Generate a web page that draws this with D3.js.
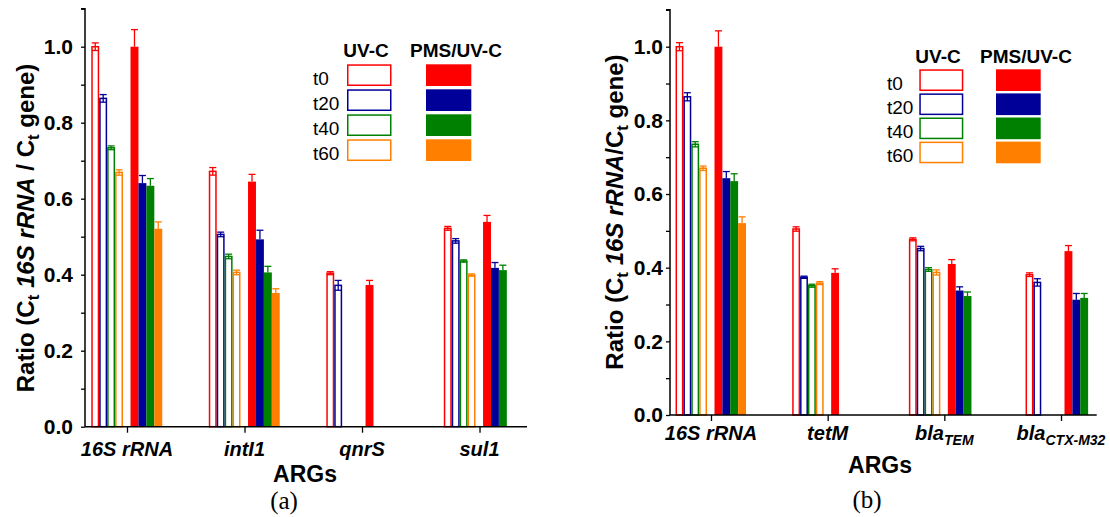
<!DOCTYPE html>
<html><head><meta charset="utf-8">
<script src="https://cdn.jsdelivr.net/npm/d3@7"></script>
<style>body{margin:0;background:#fff}svg{display:block}</style>
</head><body>
<script>
// ---------------- DATA ----------------
const series = ["t0", "t20", "t40", "t60"];
const colors = ["#ff0000", "#000099", "#008000", "#ff8000"];
const yTicks = [0, 0.2, 0.4, 0.6, 0.8, 1.0];

// Panel (a)
const catsA = ["16S rRNA", "intI1", "qnrS", "sul1"];
const uvA_t0 = [1.000, 0.672, 0.404, 0.522];
const uvA_t20 = [0.864, 0.506, 0.372, 0.489];
const uvA_t40 = [0.734, 0.448, null, 0.436];
const uvA_t60 = [0.669, 0.406, null, 0.399];
const uvA_t0_err = [0.010, 0.010, 0.004, 0.005];
const uvA_t20_err = [0.010, 0.006, 0.013, 0.006];
const uvA_t40_err = [0.005, 0.006, null, 0.003];
const uvA_t60_err = [0.007, 0.006, null, 0.003];
const pmsA_t0 = [1.000, 0.645, 0.373, 0.539];
const pmsA_t20 = [0.641, 0.493, null, 0.418];
const pmsA_t40 = [0.634, 0.406, null, 0.412];
const pmsA_t60 = [0.521, 0.352, null, null];
const pmsA_t0_err = [0.045, 0.019, 0.012, 0.017];
const pmsA_t20_err = [0.020, 0.024, null, 0.014];
const pmsA_t40_err = [0.019, 0.016, null, 0.013];
const pmsA_t60_err = [0.018, 0.011, null, null];

// Panel (b)
const catsB = ["16S rRNA", "tetM", "blaTEM", "blaCTX-M32"];
const uvB_t0 = [1.000, 0.505, 0.477, 0.381];
const uvB_t20 = [0.864, 0.374, 0.452, 0.360];
const uvB_t40 = [0.735, 0.351, 0.395, null];
const uvB_t60 = [0.670, 0.358, 0.387, null];
const uvB_t0_err = [0.011, 0.006, 0.004, 0.005];
const uvB_t20_err = [0.011, 0.003, 0.006, 0.010];
const uvB_t40_err = [0.007, 0.004, 0.005, null];
const uvB_t60_err = [0.006, 0.004, 0.007, null];
const pmsB_t0 = [1.000, 0.386, 0.410, 0.445];
const pmsB_t20 = [0.643, null, 0.338, 0.313];
const pmsB_t40 = [0.635, null, 0.323, 0.318];
const pmsB_t60 = [0.521, null, null, null];
const pmsB_t0_err = [0.043, 0.011, 0.012, 0.015];
const pmsB_t20_err = [0.018, null, 0.010, 0.017];
const pmsB_t40_err = [0.020, null, 0.011, 0.012];
const pmsB_t60_err = [0.017, null, null, null];

// ---------------- DRAW ----------------
const svg = d3.select("body").append("svg").attr("width", 1110).attr("height", 517);
const FONT = "'Liberation Sans', Arial, Helvetica, sans-serif";

function labelParts(name) {
  if (name === "blaTEM") return [["bla", false], ["TEM", true]];
  if (name === "blaCTX-M32") return [["bla", false], ["CTX-M32", true]];
  return [[name, false]];
}

function drawPanel(cfg) {
  const g = svg.append("g");
  const x = d3.scaleLinear().domain(cfg.xDomain).range(cfg.xRange);
  const y = d3.scaleLinear().domain([0, 1.1]).range([cfg.y0, cfg.y0 - (cfg.y0 - cfg.y1) * 1.1]);
  const step = x(1) - x(0);
  const bw = step * 0.0675;
  const openStart = -0.304 * step;
  const fillStart = 0.030 * step;

  // bars
  cfg.uv.forEach((vals, si) => {
    vals.forEach((v, ci) => {
      if (v == null) return;
      const left = x(ci) + openStart + si * bw;
      g.append("rect").attr("x", left + 0.75).attr("y", y(v))
        .attr("width", bw - 1.5).attr("height", y(0) - y(v))
        .attr("fill", "#fff").attr("stroke", colors[si]).attr("stroke-width", 1.5);
      const e = cfg.uvErr[si][ci];
      const cx = left + bw / 2;
      g.append("line").attr("x1", cx).attr("x2", cx).attr("y1", y(v - e)).attr("y2", y(v + e))
        .attr("stroke", colors[si]).attr("stroke-width", 1.3);
      [v - e, v + e].forEach(w => g.append("line").attr("x1", cx - 3.5).attr("x2", cx + 3.5)
        .attr("y1", y(w)).attr("y2", y(w)).attr("stroke", colors[si]).attr("stroke-width", 1.3));
    });
  });
  cfg.pms.forEach((vals, si) => {
    vals.forEach((v, ci) => {
      if (v == null) return;
      const left = x(ci) + fillStart + si * bw;
      g.append("rect").attr("x", left).attr("y", y(v))
        .attr("width", bw).attr("height", y(0) - y(v))
        .attr("fill", colors[si]);
      const e = cfg.pmsErr[si][ci];
      const cx = left + bw / 2;
      g.append("line").attr("x1", cx).attr("x2", cx).attr("y1", y(v)).attr("y2", y(v + e))
        .attr("stroke", colors[si]).attr("stroke-width", 1.3);
      g.append("line").attr("x1", cx - 3.5).attr("x2", cx + 3.5)
        .attr("y1", y(v + e)).attr("y2", y(v + e)).attr("stroke", colors[si]).attr("stroke-width", 1.3);
    });
  });

  // y axis
  const yAxis = d3.axisLeft(y).tickValues(d3.range(0, 1.101, 0.1)).tickSize(4).tickPadding(cfg.tickPad)
    .tickFormat(d => yTicks.some(t => Math.abs(t - d) < 1e-6) ? d3.format(".1f")(d) : "");
  const ya = g.append("g").attr("transform", `translate(${cfg.xRange[0]},0)`).call(yAxis);
  ya.select(".domain").attr("stroke", "#000").attr("stroke-width", 1.5).attr("d", `M-4,${y(1.1)}H0V${y(0)}`);
  ya.selectAll(".tick line").attr("stroke", "#000").attr("stroke-width", 1.3);
  ya.selectAll(".tick text").attr("font-family", FONT).attr("font-weight", "bold")
    .attr("font-size", cfg.tickFont).attr("fill", "#000");

  // x axis
  const xAxis = d3.axisBottom(x).tickValues([0, 1, 2, 3]).tickSize(6).tickFormat("");
  const xa = g.append("g").attr("transform", `translate(0,${y(0)})`).call(xAxis);
  xa.select(".domain").attr("stroke", "#000").attr("stroke-width", 1.5).attr("d", `M${cfg.xRange[0]},0H${cfg.xRange[1]}`);
  xa.selectAll(".tick line").attr("stroke", "#000").attr("stroke-width", 1.3);

  // category labels
  cfg.cats.forEach((c, i) => {
    const t = g.append("text").attr("x", x(i)).attr("y", cfg.catBase).attr("text-anchor", "middle")
      .attr("font-family", FONT).attr("font-weight", "bold").attr("font-style", "italic")
      .attr("font-size", 20).attr("fill", "#000");
    labelParts(c).forEach(([s, sub]) => {
      const ts = t.append("tspan").text(s);
      if (sub) ts.attr("font-size", 14).attr("dy", 5);
    });
  });

  // x title
  g.append("text").attr("x", cfg.argsX).attr("y", cfg.argsY).attr("text-anchor", "middle")
    .attr("font-family", FONT).attr("font-weight", "bold").attr("font-size", 23).text("ARGs");
  g.append("text").attr("x", cfg.capX).attr("y", cfg.capY).attr("text-anchor", "middle")
    .attr("font-family", "'Liberation Serif', 'Times New Roman', serif").attr("font-size", 25).text(cfg.caption);

  // y title
  const yt = g.append("text").attr("transform", `translate(${cfg.ytX},${cfg.ytY}) rotate(-90)`)
    .attr("text-anchor", "middle").attr("font-family", FONT).attr("font-weight", "bold")
    .attr("font-size", cfg.ytFont).attr("fill", "#000");
  yt.append("tspan").text("Ratio (C");
  yt.append("tspan").text("t").attr("font-size", cfg.ytFont * 0.7).attr("dy", 5);
  yt.append("tspan").text("\u00a0").attr("dy", -5);
  yt.append("tspan").text("16S rRNA").attr("font-style", "italic");
  yt.append("tspan").text(cfg.slash + "C");
  yt.append("tspan").text("t").attr("font-size", cfg.ytFont * 0.7).attr("dy", 5);
  yt.append("tspan").text("\u00a0gene)").attr("dy", -5);

  // legend
  const L = cfg.legend;
  g.append("text").attr("x", L.uvX).attr("y", L.headY).attr("text-anchor", "middle")
    .attr("font-family", FONT).attr("font-weight", "bold").attr("font-size", 19).text("UV-C");
  g.append("text").attr("x", L.pmsX).attr("y", L.headY).attr("text-anchor", "middle")
    .attr("font-family", FONT).attr("font-weight", "bold").attr("font-size", 19).text("PMS/UV-C");
  series.forEach((s, i) => {
    const top = L.rowY + i * L.rowStep;
    g.append("text").attr("x", L.labX).attr("y", top + L.boxH - 1.5)
      .attr("font-family", FONT).attr("font-size", 19).text(s);
    g.append("rect").attr("x", L.openX + 0.75).attr("y", top + 0.75).attr("width", L.openW - 1.5)
      .attr("height", L.boxH - 1.5).attr("fill", "#fff").attr("stroke", colors[i]).attr("stroke-width", 1.5);
    g.append("rect").attr("x", L.fillX).attr("y", top).attr("width", L.fillW)
      .attr("height", L.boxH).attr("fill", colors[i]);
  });
}

drawPanel({
  cats: catsA,
  uv: [uvA_t0, uvA_t20, uvA_t40, uvA_t60],
  uvErr: [uvA_t0_err, uvA_t20_err, uvA_t40_err, uvA_t60_err],
  pms: [pmsA_t0, pmsA_t20, pmsA_t40, pmsA_t60],
  pmsErr: [pmsA_t0_err, pmsA_t20_err, pmsA_t40_err, pmsA_t60_err],
  xDomain: [-0.3574, 3.404], xRange: [85, 527],
  y0: 426.7, y1: 46.7, tickPad: 8, tickFont: 21,
  catBase: 456, argsX: 305, argsY: 482, capX: 284, capY: 509, caption: "(a)",
  ytX: 34, ytY: 228, ytFont: 24, slash: " / ",
  legend: { uvX: 366, pmsX: 456, headY: 57, labX: 313, rowY: 64.3, rowStep: 25, boxH: 21.7,
            openX: 347, openW: 44.5, fillX: 426, fillW: 45.3 }
});

drawPanel({
  cats: catsB,
  uv: [uvB_t0, uvB_t20, uvB_t40, uvB_t60],
  uvErr: [uvB_t0_err, uvB_t20_err, uvB_t40_err, uvB_t60_err],
  pms: [pmsB_t0, pmsB_t20, pmsB_t40, pmsB_t60],
  pmsErr: [pmsB_t0_err, pmsB_t20_err, pmsB_t40_err, pmsB_t60_err],
  xDomain: [-0.3514, 3.306], xRange: [670, 1096.7],
  y0: 415, y1: 46.7, tickPad: 3, tickFont: 21,
  catBase: 440, argsX: 880, argsY: 473, capX: 867, capY: 508, caption: "(b)",
  ytX: 623, ytY: 212, ytFont: 24, slash: "/",
  legend: { uvX: 938, pmsX: 1026, headY: 62.5, labX: 887, rowY: 69.3, rowStep: 24.1, boxH: 21.7,
            openX: 919.3, openW: 44, fillX: 996, fillW: 44.7 }
});
</script>
</body></html>
